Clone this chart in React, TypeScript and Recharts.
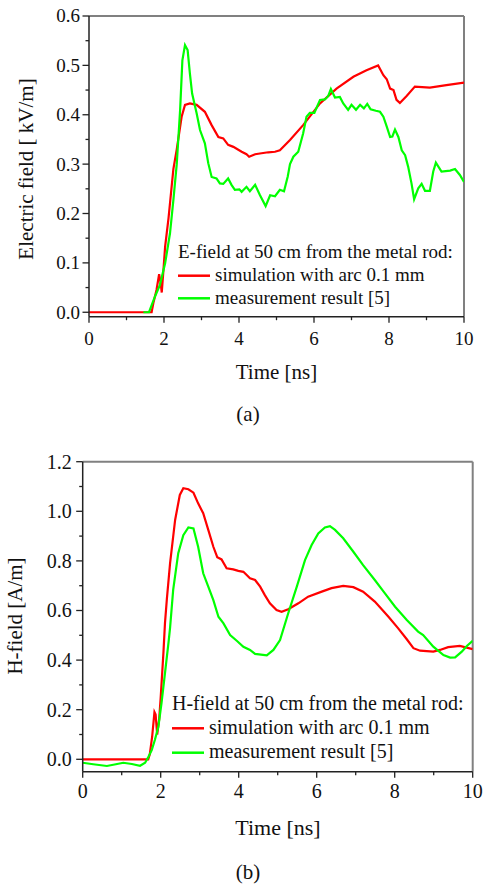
import React from "react";
import { LineChart, Line, XAxis, YAxis, ReferenceLine, Legend, Label } from "recharts";

const FONT = "Liberation Serif";
const RED = "#ff0000";
const GREEN = "#00ff00";
const SIM_NAME = "simulation with arc 0.1 mm";
const MEAS_NAME = "measurement result [5]";

// (a) E-field, simulation with arc 0.1 mm
const eSimT = [0, 1.67, 1.72, 1.8, 1.87, 1.91, 1.94, 1.98, 2.03, 2.12, 2.25, 2.34, 2.47, 2.56, 2.69, 2.87, 3.09, 3.27, 3.45, 3.58, 3.71, 3.85, 4.07, 4.2, 4.27, 4.43, 4.6, 4.78, 4.96, 5.09, 5.36, 5.71, 6.16, 6.6, 7.05, 7.4, 7.71, 7.85, 7.94, 8.03, 8.12, 8.2, 8.29, 8.47, 8.69, 9.09, 9.53, 10];
const eSimV = [0, 0, 0.02, 0.045, 0.077, 0.06, 0.04, 0.08, 0.133, 0.19, 0.29, 0.33, 0.396, 0.42, 0.423, 0.42, 0.406, 0.379, 0.355, 0.352, 0.339, 0.335, 0.325, 0.32, 0.315, 0.32, 0.322, 0.324, 0.325, 0.328, 0.349, 0.379, 0.423, 0.453, 0.477, 0.49, 0.5, 0.48, 0.472, 0.453, 0.45, 0.43, 0.424, 0.438, 0.457, 0.455, 0.46, 0.465];

// (a) E-field, measurement result [5]
const eMeasT = [1.45, 1.6, 1.76, 1.89, 2.03, 2.16, 2.25, 2.34, 2.43, 2.49, 2.56, 2.63, 2.69, 2.75, 2.87, 2.96, 3.09, 3.18, 3.27, 3.4, 3.49, 3.58, 3.71, 3.8, 3.89, 4.01, 4.07, 4.2, 4.29, 4.43, 4.56, 4.71, 4.83, 4.96, 5.09, 5.2, 5.3, 5.36, 5.45, 5.58, 5.71, 5.8, 5.89, 6.01, 6.16, 6.29, 6.38, 6.45, 6.56, 6.69, 6.78, 6.91, 7.0, 7.12, 7.23, 7.33, 7.42, 7.51, 7.65, 7.76, 7.85, 7.94, 8.03, 8.09, 8.16, 8.25, 8.34, 8.43, 8.51, 8.6, 8.67, 8.78, 8.87, 8.96, 9.09, 9.18, 9.25, 9.4, 9.63, 9.76, 9.89, 10];
const eMeasV = [0, 0, 0.032, 0.055, 0.099, 0.16, 0.227, 0.3, 0.41, 0.51, 0.541, 0.531, 0.484, 0.443, 0.403, 0.369, 0.342, 0.302, 0.274, 0.271, 0.261, 0.26, 0.271, 0.258, 0.248, 0.249, 0.244, 0.254, 0.245, 0.258, 0.237, 0.215, 0.237, 0.235, 0.248, 0.245, 0.275, 0.3, 0.315, 0.325, 0.362, 0.396, 0.404, 0.404, 0.43, 0.431, 0.438, 0.452, 0.435, 0.436, 0.423, 0.41, 0.42, 0.41, 0.42, 0.413, 0.422, 0.411, 0.408, 0.406, 0.396, 0.376, 0.355, 0.356, 0.37, 0.355, 0.328, 0.318, 0.295, 0.261, 0.229, 0.251, 0.26, 0.246, 0.246, 0.285, 0.303, 0.285, 0.287, 0.29, 0.278, 0.264];

// (b) H-field, simulation with arc 0.1 mm
const hSimT = [0, 1.68, 1.72, 1.78, 1.84, 1.87, 1.91, 1.96, 2.0, 2.07, 2.11, 2.16, 2.24, 2.37, 2.49, 2.58, 2.71, 2.84, 2.96, 3.09, 3.22, 3.35, 3.45, 3.56, 3.69, 3.86, 3.99, 4.12, 4.29, 4.42, 4.55, 4.67, 4.8, 4.97, 5.1, 5.27, 5.53, 5.78, 6.13, 6.38, 6.68, 6.94, 7.19, 7.49, 7.84, 8.09, 8.31, 8.48, 8.65, 8.99, 9.16, 9.37, 9.67, 10];
const hSimV = [0, 0, 0.02, 0.09, 0.19, 0.18, 0.1, 0.16, 0.25, 0.43, 0.55, 0.65, 0.79, 0.965, 1.066, 1.093, 1.089, 1.075, 1.032, 0.992, 0.925, 0.857, 0.815, 0.806, 0.77, 0.766, 0.76, 0.756, 0.73, 0.723, 0.696, 0.662, 0.629, 0.602, 0.595, 0.605, 0.629, 0.656, 0.676, 0.69, 0.699, 0.694, 0.676, 0.636, 0.575, 0.528, 0.484, 0.448, 0.438, 0.434, 0.441, 0.452, 0.457, 0.444];

// (b) H-field, measurement result [5]
const hMeasT = [0, 0.27, 0.62, 0.85, 1.04, 1.26, 1.47, 1.6, 1.68, 1.77, 1.85, 1.94, 2.02, 2.11, 2.2, 2.24, 2.32, 2.45, 2.58, 2.71, 2.84, 2.96, 3.09, 3.22, 3.35, 3.48, 3.61, 3.78, 3.95, 4.12, 4.29, 4.42, 4.72, 4.89, 5.06, 5.27, 5.49, 5.7, 5.87, 6.04, 6.21, 6.34, 6.47, 6.68, 6.94, 7.19, 7.49, 7.75, 8.01, 8.31, 8.6, 8.73, 8.99, 9.25, 9.42, 9.55, 9.72, 9.85, 10];
const hMeasV = [-0.014, -0.02, -0.027, -0.02, -0.014, -0.019, -0.026, -0.014, 0.008, 0.037, 0.078, 0.131, 0.226, 0.347, 0.47, 0.53, 0.683, 0.831, 0.904, 0.935, 0.931, 0.857, 0.75, 0.696, 0.642, 0.575, 0.548, 0.501, 0.478, 0.454, 0.441, 0.425, 0.419, 0.441, 0.481, 0.589, 0.696, 0.803, 0.864, 0.911, 0.935, 0.94, 0.925, 0.891, 0.837, 0.783, 0.723, 0.669, 0.615, 0.562, 0.515, 0.501, 0.454, 0.42, 0.41, 0.411, 0.434, 0.457, 0.478];

const timeTicks = [0, 1, 2, 3, 4, 5, 6, 7, 8, 9, 10];
const eTicks = [0, 0.05, 0.1, 0.15, 0.2, 0.25, 0.3, 0.35, 0.4, 0.45, 0.5, 0.55, 0.6];
const hTicks = [0, 0.1, 0.2, 0.3, 0.4, 0.5, 0.6, 0.7, 0.8, 0.9, 1.0, 1.1, 1.2];

const zip = (t: number[], v: number[]) => t.map((x, i) => ({ t: x, v: v[i] }));

const txt = (size: number) => ({ fontSize: size, fontFamily: FONT, fill: "#111", style: { fontFamily: FONT } });

function YTick(props: any) {
  const { x, y, payload, step, gap, size } = props;
  const v = payload.value;
  const major = Math.abs(v / step - Math.round(v / step)) < 1e-6;
  return (
    <g>
      <line x1={x - (major ? 6.5 : 3.5)} x2={x} y1={y} y2={y} stroke="#222" strokeWidth={1.3} />
      {major && (
        <text x={x - gap} y={y + size * 0.34} textAnchor="end" {...txt(size)}>
          {v.toFixed(1)}
        </text>
      )}
    </g>
  );
}

function XTick(props: any) {
  const { x, y, payload, gap, size } = props;
  const v = payload.value;
  const major = v % 2 === 0;
  return (
    <g>
      <line x1={x} x2={x} y1={y} y2={y + (major ? 6 : 3.5)} stroke="#222" strokeWidth={1.3} />
      {major && (
        <text x={x} y={y + gap} textAnchor="middle" {...txt(size)}>
          {v}
        </text>
      )}
    </g>
  );
}

function legendBox(title: string, size: number, rows: number[], titleY: number) {
  return (props: any) => {
    const order = [SIM_NAME, MEAS_NAME];
    const items = [...(props.payload || [])].sort((a: any, b: any) => order.indexOf(a.value) - order.indexOf(b.value));
    return (
      <svg width={320} height={75} style={{ display: "block" }}>
        <text x={0} y={titleY} {...txt(size)}>
          {title}
        </text>
        {items.map((it: any, i: number) => (
          <g key={i}>
            <line x1={0} x2={32} y1={rows[i]} y2={rows[i]} stroke={it.color} strokeWidth={2.5} />
            <text x={37} y={rows[i] + 5.3} {...txt(size)}>
              {it.value}
            </text>
          </g>
        ))}
      </svg>
    );
  };
}

function FieldChart(props: any) {
  const { sim, meas, ticks, domain, step, w, h, top, right, axisW, axisH, tickGap, xGap, fs, yTitle, yTitleX, yTitleY, timeX, timeY, timeFs, cap, capY, legend, legendPos } = props;
  return (
    <LineChart width={w} height={h} margin={{ top, right, left: 0, bottom: 0 }} style={{ fontFamily: FONT }}>
      <XAxis
        type="number"
        dataKey="t"
        domain={[0, 10]}
        ticks={timeTicks}
        interval={0}
        allowDataOverflow
        height={axisH}
        tickSize={0}
        tickMargin={0}
        axisLine={{ stroke: "#222", strokeWidth: 1.5 }}
        tick={(p: any) => <XTick {...p} gap={xGap} size={fs} />}
      >
        <Label
          content={() => (
            <g>
              <text x={timeX} y={timeY} textAnchor="middle" {...txt(timeFs)}>
                Time [ns]
              </text>
              <text x={248} y={capY} textAnchor="middle" {...txt(21)}>
                {cap}
              </text>
            </g>
          )}
        />
      </XAxis>
      <YAxis
        type="number"
        domain={domain}
        ticks={ticks}
        interval={0}
        allowDataOverflow
        width={axisW}
        tickSize={0}
        tickMargin={0}
        axisLine={{ stroke: "#222", strokeWidth: 1.5 }}
        tick={(p: any) => <YTick {...p} step={step} gap={tickGap} size={fs} />}
      >
        <Label
          content={() => (
            <text
              x={yTitleX}
              y={yTitleY}
              transform={`rotate(-90 ${yTitleX} ${yTitleY})`}
              textAnchor="middle"
              {...txt(21)}
            >
              {yTitle}
            </text>
          )}
        />
      </YAxis>
      <ReferenceLine y={domain[1]} stroke="#808080" strokeWidth={2} />
      <ReferenceLine x={10} stroke="#808080" strokeWidth={2} />
      <Legend
        verticalAlign="middle"
        align="center"
        layout="horizontal"
        wrapperStyle={{ left: legendPos[0], top: legendPos[1], width: 320, height: 75 }}
        content={legend}
      />
      <Line data={sim} dataKey="v" name={SIM_NAME} stroke={RED} strokeWidth={2.2} dot={false} isAnimationActive={false} />
      <Line data={meas} dataKey="v" name={MEAS_NAME} stroke={GREEN} strokeWidth={2.2} dot={false} isAnimationActive={false} />
    </LineChart>
  );
}

export default function App() {
  return (
    <div style={{ position: "absolute", left: 0, top: 0, width: 485, height: 886, background: "#fff", fontFamily: FONT }}>
      <div style={{ position: "absolute", left: 0, top: 0 }}>
        <FieldChart
          sim={zip(eSimT, eSimV)}
          meas={zip(eMeasT, eMeasV)}
          ticks={eTicks}
          domain={[-0.009, 0.6]}
          step={0.1}
          w={485}
          h={440}
          top={16}
          right={21}
          axisW={89}
          axisH={123.3}
          tickGap={9}
          xGap={28}
          fs={19}
          yTitle="Electric field [ kV/m]"
          yTitleX={33}
          yTitleY={169}
          timeX={276.5}
          timeY={379}
          timeFs={21}
          cap="(a)"
          capY={421}
          legend={legendBox("E-field at 50 cm from the metal rod:", 19, [35.7, 58.3], 18)}
          legendPos={[178, 240]}
        />
      </div>
      <div style={{ position: "absolute", left: 0, top: 440 }}>
        <FieldChart
          sim={zip(hSimT, hSimV)}
          meas={zip(hMeasT, hMeasV)}
          ticks={hTicks}
          domain={[-0.05, 1.2]}
          step={0.2}
          w={485}
          h={446}
          top={21.7}
          right={12.3}
          axisW={82.7}
          axisH={114.3}
          tickGap={11}
          xGap={26.6}
          fs={20}
          yTitle="H-field [A/m]"
          yTitleX={22}
          yTitleY={176}
          timeX={278}
          timeY={395}
          timeFs={22}
          cap="(b)"
          capY={439}
          legend={legendBox("H-field at 50 cm from the metal rod:", 20, [38.3, 62.7], 20)}
          legendPos={[171.7, 250]}
        />
      </div>
    </div>
  );
}
